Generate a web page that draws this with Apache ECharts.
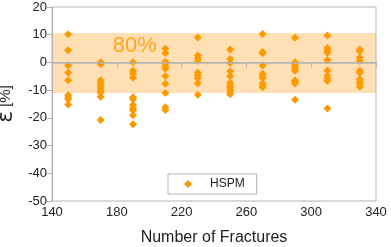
<!DOCTYPE html>
<html><head><meta charset="utf-8">
<script src="https://cdn.jsdelivr.net/npm/echarts@6/dist/echarts.min.js"></script>
<style>html,body{margin:0;padding:0;background:#fff}#c{width:391px;height:247px}</style>
</head><body><div id="c"></div>
<script>
const fractures = [150, 170, 190, 210, 230, 250, 270, 290, 310, 330];
const errors150 = [10.2, 4.4, -1.1, -3.7, -6.4, -11.8, -12.6, -13.3, -15.2];
const errors170 = [0.1, -0.3, -0.7, -6.4, -7.3, -8.3, -9.2, -10.2, -10.9, -12.4, -20.8];
const errors190 = [0.1, -3.0, -4.0, -5.4, -12.6, -13.3, -15.4, -16.4, -17.3, -19.1, -22.3];
const errors210 = [4.9, 3.4, 0.2, -0.5, -1.5, -2.3, -5.0, -7.7, -11.0, -16.2, -17.2];
const errors230 = [9.0, 2.5, 1.5, 0.6, -3.7, -4.7, -5.6, -7.5, -11.7];
const errors250 = [4.7, 1.2, -0.2, -3.2, -5.0, -7.3, -8.2, -9.0, -9.9, -10.7, -11.5];
const errors270 = [10.3, 3.8, 3.3, -1.1, -4.1, -4.9, -5.6, -7.5, -8.4, -9.0];
const errors290 = [8.9, 0.1, -0.6, -1.3, -2.1, -3.0, -6.5, -7.1, -7.6, -13.5];
const errors310 = [9.7, 5.2, 4.4, 3.5, 0.9, -2.9, -4.8, -5.9, -6.7, -16.6];
const errors330 = [4.7, 4.0, 1.8, 0.5, -3.0, -3.7, -6.1, -6.9, -7.6, -8.8];
const errorsByGroup = [errors150, errors170, errors190, errors210, errors230, errors250, errors270, errors290, errors310, errors330];
const bandRange = [-11.0, 10.6];
const bandLabel = '80%';
const bandLabelAt = [177.5, 6.0];
const xTicks = [140, 180, 220, 260, 300, 340];
const yTicks = [-50, -40, -30, -20, -10, 0, 10, 20];
const seriesName = 'HSPM';

const points = [];
fractures.forEach((f, i) => errorsByGroup[i].forEach(e => points.push([f, e])));

const orange = '#ff9900';
const gray = '#b3b3b3';
const font = 'Liberation Sans';
const chart = echarts.init(document.getElementById('c'), null, {renderer: 'canvas'});
chart.setOption({
  animation: false,
  textStyle: {fontFamily: font},
  grid: {left: 52, right: 15, top: 7, bottom: 46, outerBoundsMode: 'none', containLabel: false,
    show: true, borderColor: gray, borderWidth: 1, backgroundColor: 'transparent'},
  xAxis: {
    type: 'value', min: xTicks[0], max: xTicks[xTicks.length - 1], interval: 40,
    name: 'Number of Fractures', nameLocation: 'middle', nameGap: 29,
    nameTextStyle: {fontSize: 16, color: '#222', fontFamily: font},
    axisLine: {lineStyle: {color: gray}},
    axisTick: {length: 5, lineStyle: {color: gray}},
    axisLabel: {fontSize: 13, color: '#222', margin: 5, fontFamily: font},
    splitLine: {show: false}
  },
  yAxis: {
    type: 'value', min: yTicks[0], max: yTicks[yTicks.length - 1], interval: 10,
    name: '{e|ε} [%]', nameLocation: 'middle', nameGap: 32,
    nameTextStyle: {fontSize: 15, color: '#222', fontFamily: font, rich: {e: {fontSize: 22, color: '#222', fontFamily: 'DejaVu Sans'}}},
    axisLine: {show: true, lineStyle: {color: gray}},
    axisTick: {show: true, length: 5, lineStyle: {color: gray}},
    axisLabel: {fontSize: 13, color: '#222', margin: 5, fontFamily: font},
    splitLine: {show: false}
  },
  legend: {
    left: 168, top: 174, data: [seriesName],
    itemWidth: 8, itemHeight: 8, padding: [4, 12, 4, 16],
    borderColor: gray, borderWidth: 1, backgroundColor: '#fff',
    textStyle: {fontSize: 12, color: '#222', fontFamily: font, padding: [0, 0, 0, 13]}
  },
  series: [{
    name: seriesName, type: 'scatter', symbol: 'diamond', symbolSize: 8,
    itemStyle: {color: orange, opacity: 1},
    data: points,
    markArea: {silent: true, itemStyle: {color: '#ffe0b4'}, data: [[{yAxis: bandRange[0]}, {yAxis: bandRange[1]}]], z: -1},
    markLine: {silent: true, symbol: ['none', 'none'], label: {show: false}, lineStyle: {color: gray, type: 'solid', width: 1.5}, data: [{yAxis: 0}]},
    z: 3
  }]
});
const p = chart.convertToPixel({gridIndex: 0}, bandLabelAt);
chart.setOption({graphic: [{type: 'text', x: p[0], y: p[1], z: 10,
  style: {text: bandLabel, fill: orange, opacity: 0.85, fontSize: 22, fontFamily: font, verticalAlign: 'middle', align: 'left'}}]});
</script></body></html>
